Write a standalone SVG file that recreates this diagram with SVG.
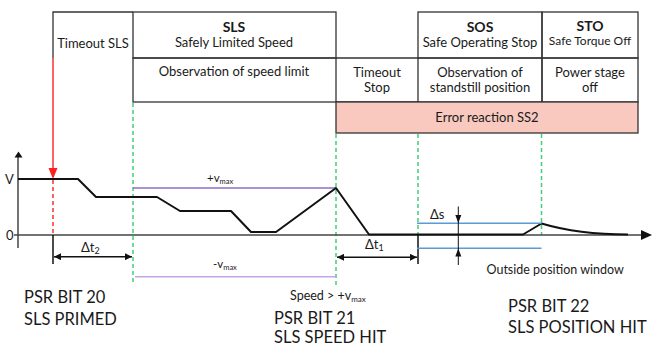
<svg xmlns="http://www.w3.org/2000/svg" width="663" height="349" viewBox="0 0 663 349">
<style>
  text { font-family: Lato, "Liberation Sans", sans-serif; fill: #1a1a1a; }
  .t { font-size: 13px; text-anchor: middle; }
  .tb { font-size: 14px; font-weight: bold; text-anchor: middle; }
  .ts { font-size: 12px; text-anchor: middle; }
  .big { font-size: 16.5px; }
  .cell { fill: none; stroke: #333; stroke-width: 1.3; }
  .grid { fill: none; stroke: #333; stroke-width: 1.3; }
  .green { stroke: #3fcf7a; stroke-width: 1.5; stroke-dasharray: 4 3; fill: none; }
  .prof { fill: none; stroke: #111; stroke-width: 2; stroke-linejoin: round; }
  .axis { stroke: #444; stroke-width: 1.5; fill: none; }
  .blue { stroke: #5b9bd5; stroke-width: 1.5; }
  .dim { stroke: #111; stroke-width: 1.5; fill: none; }
</style>
<defs>
  <marker id="ah" viewBox="0 0 10 10" refX="10" refY="5" markerWidth="10" markerHeight="7" markerUnits="userSpaceOnUse" orient="auto-start-reverse">
    <path d="M0,0 L10,5 L0,10 z" fill="#111"/>
  </marker>
</defs>

<!-- Table -->
<g id="cell-timeout-sls">
  <path class="grid" d="M53,58 V12 H133"/>
  <text class="t" x="93" y="47.5">Timeout SLS</text>
</g>
<g id="cell-sls">
  <rect class="cell" x="133" y="12" width="203" height="46"/>
  <text class="tb" x="234" y="31.5">SLS</text>
  <text class="t" x="234" y="46.5">Safely Limited Speed</text>
</g>
<g id="cell-sls-obs">
  <rect class="cell" x="133" y="58" width="203" height="44"/>
  <text class="t" x="234" y="76">Observation of speed limit</text>
</g>
<g id="cell-timeout-stop">
  <path class="grid" d="M336,58 H418 M336,102 H418"/>
  <text class="t" x="377" y="76.5">Timeout</text>
  <text class="t" x="377" y="92">Stop</text>
</g>
<g id="cell-sos">
  <rect class="cell" x="418" y="12" width="124" height="46"/>
  <text class="tb" x="480" y="31.5">SOS</text>
  <text class="t" x="480" y="46.5">Safe Operating Stop</text>
</g>
<g id="cell-sos-obs">
  <rect class="cell" x="418" y="58" width="124" height="44"/>
  <text class="t" x="480" y="76.5">Observation of</text>
  <text class="t" x="480" y="92">standstill position</text>
</g>
<g id="cell-sto">
  <rect class="cell" x="542" y="12" width="96" height="46"/>
  <text class="tb" x="590" y="31">STO</text>
  <text class="ts" x="590" y="44.5">Safe Torque Off</text>
</g>
<g id="cell-sto-obs">
  <rect class="cell" x="542" y="58" width="96" height="44"/>
  <text class="t" x="590" y="76.5">Power stage</text>
  <text class="t" x="590" y="92">off</text>
</g>
<g id="cell-error">
  <rect x="336" y="102" width="302" height="31" fill="#f9c9bf" stroke="#333" stroke-width="1.3"/>
  <text class="t" x="487" y="121.5">Error reaction SS2</text>
</g>

<g id="connectors">
  <!-- green dashed markers -->
  <path class="green" d="M133,103 V285"/>
  <path class="green" d="M336,134 V285"/>
  <path class="green" d="M418,134 V235"/>
  <path class="green" d="M541.5,134 V235"/>

  <!-- red trigger -->
  <path d="M53,58 V169" stroke="#ff2020" stroke-width="1.4" fill="none"/>
  <path d="M48.5,168 L57.5,168 L53,179 z" fill="#ff2020"/>
  <path d="M53,180 V235" stroke="#ff2020" stroke-width="1.4" stroke-dasharray="4 3" fill="none"/>

  <!-- axes -->
  <path class="axis" d="M18,248 V157"/>
  <path d="M14.5,157.5 L22.5,157.5 L18.5,151.5 z" fill="#111"/>
  <path class="axis" d="M14,235 H641"/>
  <path d="M641,230 L652,235 L641,240 z" fill="#111"/>

  <!-- limits -->
  <path d="M133,188 H336" stroke="#8f6cc8" stroke-width="1.5"/>
  <path d="M135,276.7 H336" stroke="#c2a6e6" stroke-width="1.5"/>

  <!-- speed profile -->
  <path class="prof" d="M18,179 H78 L96,197 H157 L180,211 H231 L251,232 H276 L336,188 L369,234.5 H523 L541.5,223.5 C570,232 600,234.5 628,234.5"/>

  <!-- delta t2 -->
  <path class="dim" d="M53,235 V264"/>
  <path class="dim" d="M54,256.7 H132" marker-start="url(#ah)" marker-end="url(#ah)"/>
  <!-- delta t1 -->
  <path class="dim" d="M418,235 V264"/>
  <path class="dim" d="M337,257.3 H417" marker-start="url(#ah)" marker-end="url(#ah)"/>

  <!-- delta s -->
  <path class="blue" d="M417,223.3 H541.5"/>
  <path class="blue" d="M417,248.3 H541.5"/>
  <path stroke="#111" stroke-width="1" d="M458.3,206.5 V265"/>
  <path d="M455.3,215 L461.3,215 L458.3,223 z" fill="#111"/>
  <path d="M455.3,256.5 L461.3,256.5 L458.3,248.5 z" fill="#111"/>
</g>

<g id="labels">
  <text x="5" y="184" font-size="13">V</text>
  <text x="6" y="240" font-size="13">0</text>
  <text x="81" y="251.5" font-size="13">Δt<tspan font-size="9" dy="2">2</tspan></text>
  <text x="365" y="249" font-size="13">Δt<tspan font-size="9" dy="2">1</tspan></text>
  <text x="430" y="218.5" font-size="13">Δs</text>
  <text x="207" y="181.5" font-size="11.5">+v<tspan font-size="7.5" dy="2">max</tspan></text>
  <text x="213" y="268.3" font-size="11.5">-v<tspan font-size="7.5" dy="2">max</tspan></text>
  <text x="290" y="300" font-size="12.5">Speed  &gt; +v<tspan font-size="8" dy="2">max</tspan></text>
  <text x="486.5" y="274" font-size="12.5">Outside position window</text>

  <text class="big" x="24" y="303">PSR BIT 20</text>
  <text class="big" x="24" y="325">SLS PRIMED</text>
  <text class="big" x="274" y="324">PSR BIT 21</text>
  <text class="big" x="274" y="343">SLS SPEED HIT</text>
  <text class="big" x="508" y="311.5">PSR BIT 22</text>
  <text class="big" x="508" y="333">SLS POSITION HIT</text>
</g>
</svg>
